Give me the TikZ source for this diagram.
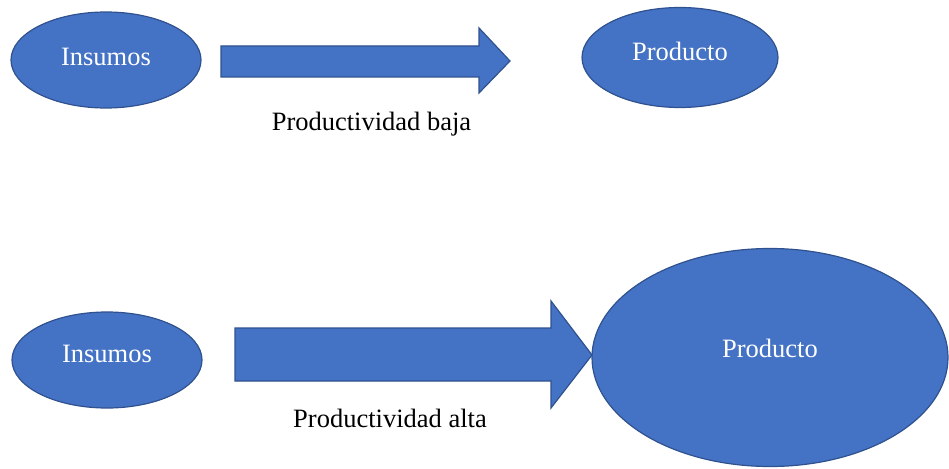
\documentclass[tikz,border=0pt]{standalone}
\usepackage{fontspec}
\setmainfont{Liberation Serif}
\usepackage{tikz}
\usetikzlibrary{positioning, shapes.geometric}
\definecolor{officeblue}{RGB}{68,114,196}
\definecolor{officeedge}{RGB}{47,82,143}

\begin{document}
\begin{tikzpicture}[
    x=1pt, y=-1pt,
    bigfont/.style={font=\fontsize{26.5}{30}\selectfont},
    blob/.style={ellipse, draw=officeedge, fill=officeblue, line width=1.2pt,
        inner sep=0pt, text=white, bigfont},
    blockarrow/.style={draw=officeedge, fill=officeblue, line width=1.2pt, line join=miter},
    caption/.style={anchor=base, inner sep=0pt, bigfont}
]
\useasboundingbox (0,0) rectangle (949,468);

% Low productivity
\draw[blockarrow] (221,46) -- (479,46) -- (479,28) -- (510,61) -- (479,93)
    -- (479,77) -- (221,77) -- cycle;
\node[blob, minimum width=190pt, minimum height=96pt, text depth=7pt] (insumosA) at (106,60) {Insumos};
\node[blob, minimum width=196pt, minimum height=100pt, text depth=12pt] (productoA) at (680,57.5) {Producto};
\node[caption] (bajaLabel) at (371.5,130) {Productividad baja};

% High productivity
\draw[blockarrow] (235,328) -- (551,328) -- (551,301) -- (592,355) -- (551,408)
    -- (551,381) -- (235,381) -- cycle;
\node[blob, minimum width=190pt, minimum height=96pt, text depth=12pt] (insumosB) at (107,360) {Insumos};
\node[blob, minimum width=356pt, minimum height=218pt, text depth=18pt] (productoB) at (770,357.5) {Producto};
\node[caption] (altaLabel) at (390,427) {Productividad alta};

\end{tikzpicture}
\end{document}
